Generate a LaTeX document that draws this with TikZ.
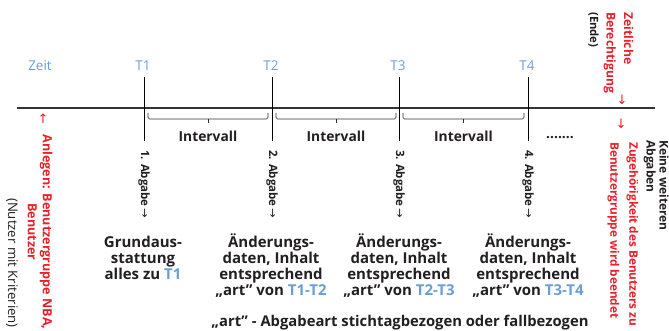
\documentclass[tikz,border=0pt]{standalone}
\usepackage{fontspec}
\setmainfont{Open Sans}
\newfontfamily\arrowfont{DejaVu Sans}
\definecolor{tblue}{HTML}{6A9FD6}
\definecolor{tred}{HTML}{E8202A}
\definecolor{tdark}{HTML}{231F20}
\begin{document}
\begin{tikzpicture}[x=1pt,y=-1pt,
  axisline/.style={line width=1.1pt, draw=black!80},
  tickline/.style={line width=0.9pt, draw=black},
  bracket/.style={line width=0.6pt, draw=black!80, rounded corners=1.5pt},
  tlabel/.style={text=tblue, font=\fontsize{13.5}{15}\selectfont, inner sep=0},
  ivl/.style={font=\bfseries\fontsize{13.8}{15}\selectfont, text=tdark, inner sep=0},
  abg/.style={rotate=-90, anchor=west, font=\bfseries\fontsize{11.5}{12}\selectfont, inner sep=0, text=tdark},
  boxtext/.style={align=center, anchor=north, font=\bfseries\fontsize{15}{15.8}\selectfont, inner sep=0, text=tdark},
  side/.style={rotate=-90, inner sep=0, font=\bfseries\fontsize{12.6}{15}\selectfont},
  redarrow/.style={text=tred, inner sep=0, font=\arrowfont\fontsize{13}{13}\selectfont},
]
\useasboundingbox (0,0) rectangle (669,331);
% axis
\coordinate (a0) at (17,108);
\coordinate (a1) at (655,108);
\draw[axisline] (a0) -- (a1);
% ticks
\foreach \i/\x in {1/144,2/272,3/399,4/528}{
  \coordinate (t\i top) at (\x,77);
  \coordinate (t\i bot) at (\x,141);
  \draw[tickline] (t\i top) -- (t\i bot);
  \node[tlabel] (lt\i) at (\x-1,66) {T\i};
  \node[abg] (ab\i) at (\x,150) {\i. Abgabe{\arrowfont\mdseries\,→}};
}
\node[tlabel] (zeit) at (40,66) {Zeit};
% brackets
\foreach \l/\r/\n in {148/268/1, 276/396/2, 403/524/3}{
  \draw[bracket] (\l,113) -- (\l,119) -- (\r,119) -- (\r,113);
  \draw[bracket] ({(\l+\r)/2},119) -- ({(\l+\r)/2},123.5);
  \node[ivl] (iv\n) at ({(\l+\r)/2},136) {Intervall};
}
\node[ivl] (dots) at (560,138) {.......};
% boxes
\node[boxtext] (g1) at (143,234) {Grundaus-\vphantom{Ä}\\stattung\\alles zu \textcolor{tblue}{T1}};
\node[boxtext] (g2) at (271,234) {Änderungs-\\daten, Inhalt\\entsprechend\\„art” von \textcolor{tblue}{T1-T2}};
\node[boxtext] (g3) at (399,234) {Änderungs-\\daten, Inhalt\\entsprechend\\„art” von \textcolor{tblue}{T2-T3}};
\node[boxtext] (g4) at (528,234) {Änderungs-\\daten, Inhalt\\entsprechend\\„art” von \textcolor{tblue}{T3-T4}};
\node[boxtext, anchor=center, font=\bfseries\fontsize{14.8}{15.8}\selectfont] (legend) at (400,323) {„art” - Abgabeart stichtagbezogen oder fallbezogen};
% left side
\node[redarrow] (uparr) at (43,119) {↑};
\node[side, align=center, text=tred] (anlegen) at (40,232) {Anlegen: Benutzergruppe NBA,\\Benutzer};
\node[side, text=tdark, font=\fontsize{13.2}{13}\selectfont] (nutzer) at (12,263) {(Nutzer mit Kriterien)};
% right side top
\node[side, align=left, anchor=north west, text=tred, font=\bfseries\fontsize{12.2}{17.5}\selectfont] (zeitl) at (633.5,12) {Zeitliche\\Berechtigung};
\node[side, anchor=north west, text=tdark, font=\bfseries\fontsize{11.3}{13}\selectfont] (ende) at (599,12) {(Ende)};
\node[redarrow] (downarr1) at (622,100) {↓};
\node[redarrow] (downarr2) at (621,124) {↓};
% right side bottom
\node[side, align=left, anchor=north west, text=tred, font=\bfseries\fontsize{11.8}{19}\selectfont] (zugeh) at (638.5,142) {Zugehörigkeit des Benutzers zu\\Benutzergruppe wird beendet};
\node[side, align=left, anchor=north west, text=tdark, font=\bfseries\fontsize{12}{13}\selectfont] (keine) at (669,140) {Keine weiteren\\Abgaben};
\end{tikzpicture}
\end{document}
